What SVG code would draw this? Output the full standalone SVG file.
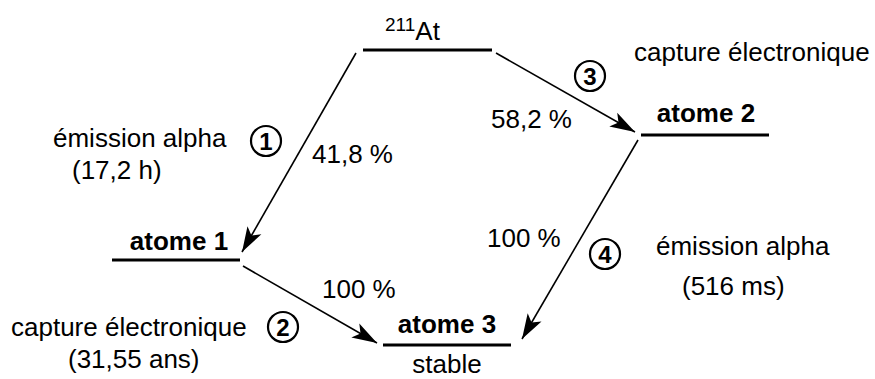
<svg xmlns="http://www.w3.org/2000/svg" width="875" height="379" viewBox="0 0 875 379">
  <style>
    text { font-family: "Liberation Sans", Arial, Helvetica, sans-serif; font-size: 26px; fill: #000; }
    .name { font-weight: bold; text-anchor: middle; }
    .num { font-weight: bold; font-size: 24px; text-anchor: middle; }
    .level { stroke: #000; stroke-width: 3; }
    .ring { fill: none; stroke: #000; stroke-width: 2.2; }
    .decay { stroke: #000; stroke-width: 1.6; fill: none; marker-end: url(#head); }
  </style>
  <defs>
    <marker id="head" viewBox="-26 -9 28 18" markerWidth="28" markerHeight="18" refX="0" refY="0" orient="auto" markerUnits="userSpaceOnUse">
      <path d="M0,0 L-25,-8 L-19,0 L-25,8 Z" fill="#000"/>
    </marker>
  </defs>

  <!-- energy levels -->
  <g id="at211">
    <line class="level" x1="363" y1="50" x2="492" y2="50"/>
    <text x="385" y="40"><tspan font-size="19" dy="-9">211</tspan><tspan dy="9">At</tspan></text>
  </g>
  <g id="atome1">
    <line class="level" x1="112" y1="260" x2="240" y2="260"/>
    <text class="name" x="179" y="250">atome 1</text>
  </g>
  <g id="atome2">
    <line class="level" x1="641" y1="135" x2="769" y2="135"/>
    <text class="name" x="706" y="122">atome 2</text>
  </g>
  <g id="atome3">
    <line class="level" x1="383" y1="345" x2="511" y2="345"/>
    <text class="name" x="447" y="333">atome 3</text>
    <text x="447" y="373" text-anchor="middle">stable</text>
  </g>

  <!-- decay arrows -->
  <g id="connectors">
    <line class="decay" x1="356" y1="53" x2="242" y2="252"/>
    <line class="decay" x1="243" y1="266" x2="377" y2="343"/>
    <line class="decay" x1="496" y1="53" x2="635" y2="132"/>
    <line class="decay" x1="638" y1="140" x2="522" y2="339"/>
  </g>

  <!-- step 1 -->
  <g id="step1">
    <circle class="ring" cx="266" cy="141" r="15"/>
    <text class="num" x="266" y="149.5">1</text>
    <text x="53" y="147">émission alpha</text>
    <text x="72" y="179">(17,2 h)</text>
    <text x="312" y="163">41,8 %</text>
  </g>

  <!-- step 2 -->
  <g id="step2">
    <circle class="ring" cx="283" cy="327" r="15"/>
    <text class="num" x="283" y="335.5">2</text>
    <text x="11" y="336">capture électronique</text>
    <text x="68" y="368">(31,55 ans)</text>
    <text x="322" y="298">100 %</text>
  </g>

  <!-- step 3 -->
  <g id="step3">
    <circle class="ring" cx="590" cy="76" r="15"/>
    <text class="num" x="590" y="84.5">3</text>
    <text x="634" y="61">capture électronique</text>
    <text x="491" y="128">58,2 %</text>
  </g>

  <!-- step 4 -->
  <g id="step4">
    <circle class="ring" cx="605" cy="254" r="15"/>
    <text class="num" x="605" y="262.5">4</text>
    <text x="656" y="255">émission alpha</text>
    <text x="682" y="295">(516 ms)</text>
    <text x="487" y="247">100 %</text>
  </g>
</svg>
